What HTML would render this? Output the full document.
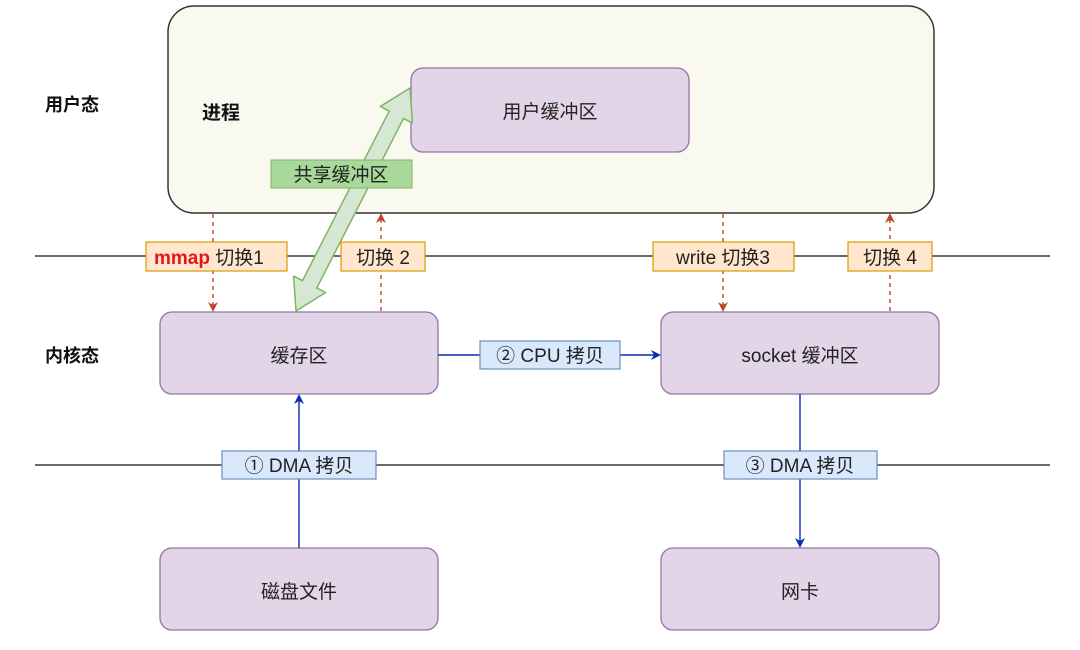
<!DOCTYPE html>
<html><head><meta charset="utf-8"><style>
html,body{margin:0;padding:0;background:#fff;}
svg text{font-family:"Liberation Sans","Noto Sans CJK SC",sans-serif;}
</style></head><body>
<svg width="1080" height="645" viewBox="0 0 1080 645" xmlns="http://www.w3.org/2000/svg">
<defs>
<marker id="ra" markerWidth="10" markerHeight="10" refX="8" refY="5" orient="auto" markerUnits="userSpaceOnUse"><path d="M0,0 L10,5 L0,10 L3,5 Z" fill="#c0452b"/></marker>
<marker id="ba" markerWidth="10" markerHeight="10" refX="8" refY="5" orient="auto" markerUnits="userSpaceOnUse"><path d="M0,0 L10,5 L0,10 L3,5 Z" fill="#0b2bb0"/></marker>
</defs>
<rect x="168" y="6" width="766" height="207" rx="26" fill="#f9f9ef" stroke="#333" stroke-width="1.5"/>
<line x1="35" y1="256" x2="1050" y2="256" stroke="#111" stroke-width="1.2"/>
<line x1="35" y1="465" x2="1050" y2="465" stroke="#111" stroke-width="1.2"/>
<text x="45" y="111" font-size="18" font-weight="bold" fill="#111">用户态</text>
<text x="45" y="362" font-size="18" font-weight="bold" fill="#111">内核态</text>
<text x="202" y="119" font-size="19" font-weight="bold" fill="#111">进程</text>
<g fill="#e1d5e7" stroke="#9673a6" stroke-width="1.3">
<rect x="411" y="68" width="278" height="84" rx="12"/>
<rect x="160" y="312" width="278" height="82" rx="12"/>
<rect x="661" y="312" width="278" height="82" rx="12"/>
<rect x="160" y="548" width="278" height="82" rx="12"/>
<rect x="661" y="548" width="278" height="82" rx="12"/>
</g>
<g font-size="19" fill="#222" text-anchor="middle">
<text x="550" y="118">用户缓冲区</text>
<text x="299" y="362">缓存区</text>
<text x="800" y="362">socket 缓冲区</text>
<text x="299" y="598">磁盘文件</text>
<text x="800" y="598">网卡</text>
</g>
<polygon points="410,88 412.4,122.9 403.5,118.4 316.8,287.9 325.7,292.5 296,311 293.6,276.1 302.5,280.6 389.2,111.1 380.3,106.5" fill="#d5e8d4" stroke="#82b366" stroke-width="1.5" stroke-linejoin="round"/>
<rect x="271" y="160" width="141" height="28" fill="#a9d99a" stroke="#82b366"/>
<text x="341" y="181" font-size="19" fill="#222" text-anchor="middle">共享缓冲区</text>
<g stroke="#c0452b" stroke-width="1.4" stroke-dasharray="4,4" fill="none">
<line x1="213" y1="214" x2="213" y2="310" marker-end="url(#ra)"/>
<line x1="381" y1="311" x2="381" y2="215" marker-end="url(#ra)"/>
<line x1="723" y1="214" x2="723" y2="310" marker-end="url(#ra)"/>
<line x1="890" y1="311" x2="890" y2="215" marker-end="url(#ra)"/>
</g>
<g stroke="#0b2bb0" stroke-width="1.4" fill="none">
<line x1="438" y1="355" x2="659" y2="355" marker-end="url(#ba)"/>
<line x1="299" y1="548" x2="299" y2="396" marker-end="url(#ba)"/>
<line x1="800" y1="394" x2="800" y2="546" marker-end="url(#ba)"/>
</g>
<g fill="#ffe6cc" stroke="#d79b00" stroke-width="1.2">
<rect x="146" y="242" width="141" height="29"/>
<rect x="341" y="242" width="84" height="29"/>
<rect x="653" y="242" width="141" height="29"/>
<rect x="848" y="242" width="84" height="29"/>
</g>
<g fill="#dae8fc" stroke="#6c8ebf" stroke-width="1.2">
<rect x="222" y="451" width="154" height="28"/>
<rect x="724" y="451" width="153" height="28"/>
<rect x="480" y="341" width="140" height="28"/>
</g>
<g font-size="19" fill="#222">
<text x="154" y="264"><tspan fill="#e8141b" font-weight="bold">mmap</tspan> 切换1</text>
<text x="383" y="264" text-anchor="middle">切换 2</text>
<text x="723" y="264" text-anchor="middle">write 切换3</text>
<text x="890" y="264" text-anchor="middle">切换 4</text>
<text x="299" y="472" text-anchor="middle">① DMA 拷贝</text>
<text x="800" y="472" text-anchor="middle">③ DMA 拷贝</text>
<text x="550" y="362" text-anchor="middle">② CPU 拷贝</text>
</g>
</svg>
</body></html>
